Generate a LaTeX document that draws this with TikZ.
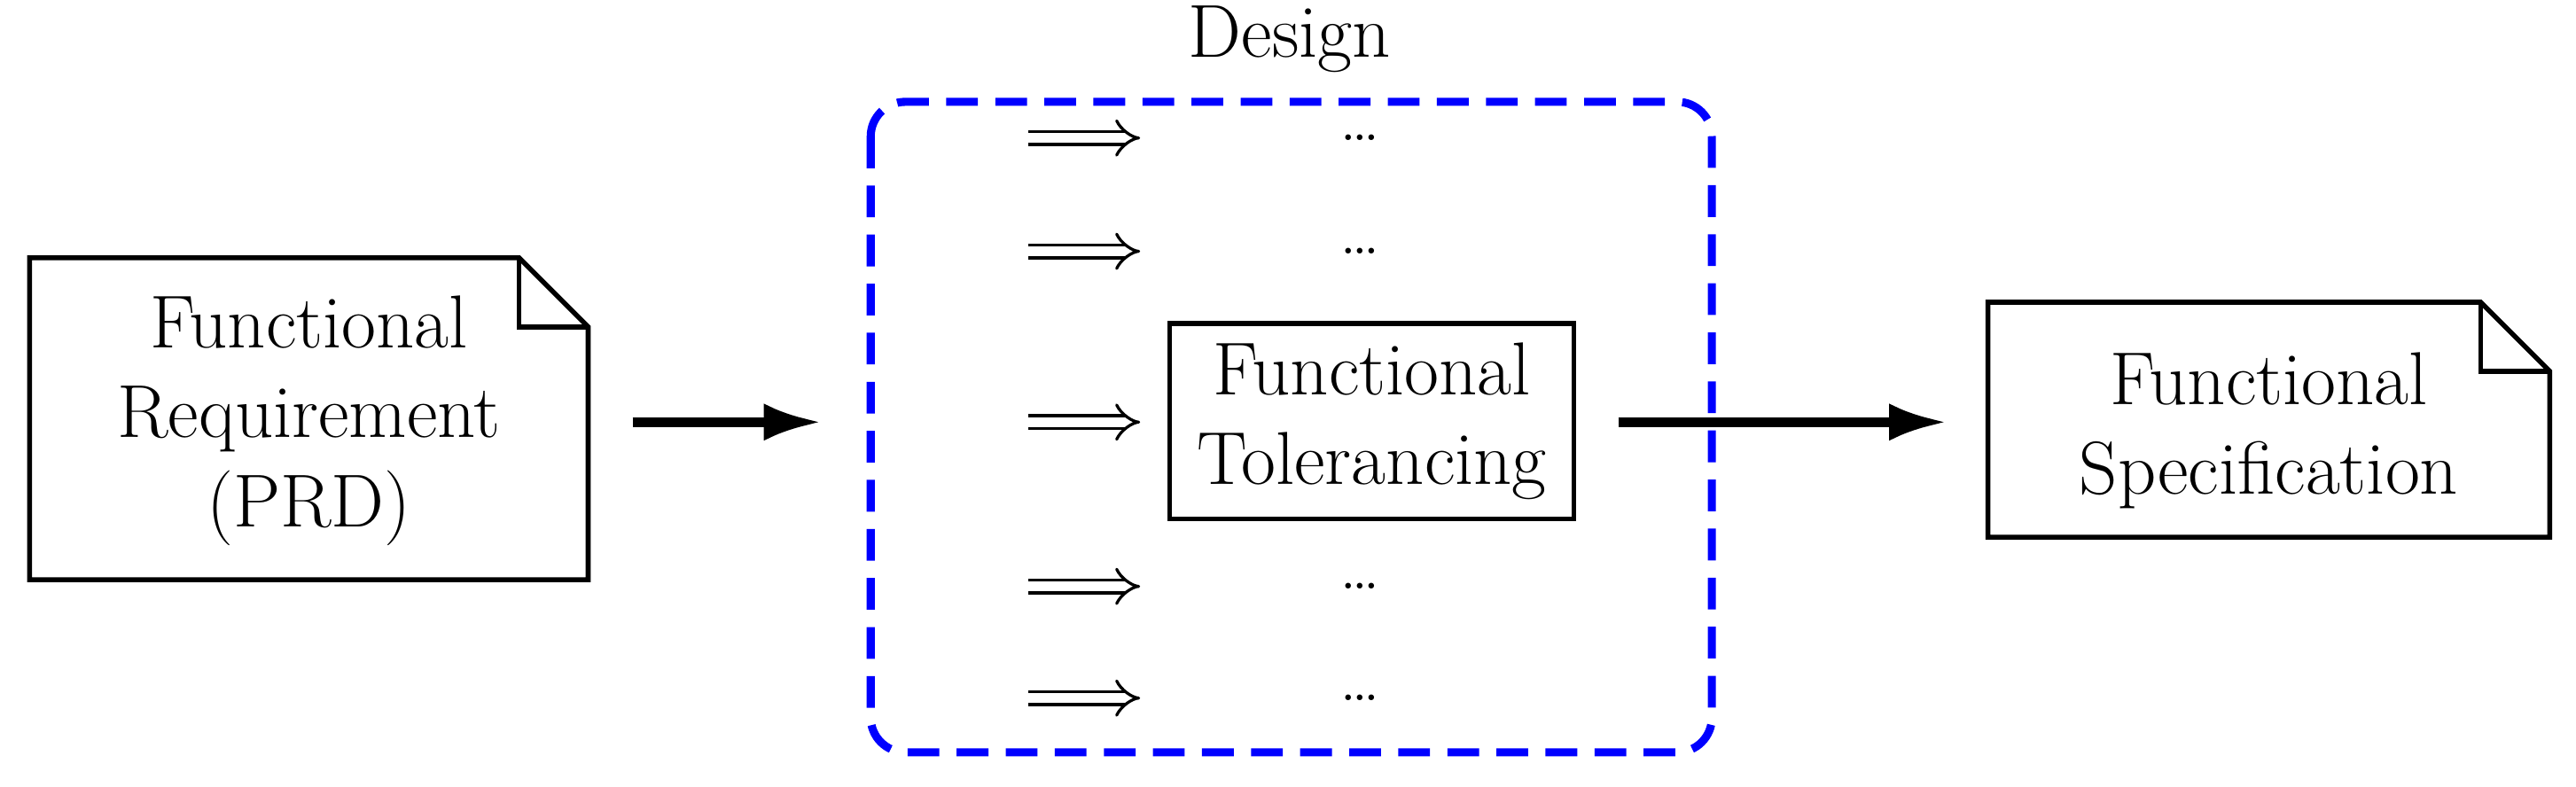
\documentclass[tikz,border=0pt]{standalone}
\usetikzlibrary{arrows.meta,arrows}
\begin{document}
\begin{tikzpicture}[x=0.02cm,y=-0.02cm,
  doc/.style={line width=1.7pt,fill=white},
  lbl/.style={font=\fontsize{26}{31}\selectfont,align=center},
  big/.style={line width=3.2pt,-{Latex[length=20pt,width=13pt]}},
  dbl/.style={double,double distance=3.5pt,line width=1pt,-{Implies}},
  dots/.style={font=\fontsize{24}{29}\selectfont}]
\useasboundingbox (0,0) rectangle (1568,479);
% left document
\draw[doc] (18,157) -- (316,157) -- (358,199) -- (358,353) -- (18,353) -- cycle;
\draw[line width=1.7pt] (316,157) -- (316,199) -- (358,199);
\node[lbl] (req) at (188,256) {Functional\\Requirement\\(PRD)};
% right document
\draw[doc] (1210,184) -- (1510,184) -- (1552,226) -- (1552,327) -- (1210,327) -- cycle;
\draw[line width=1.7pt] (1510,184) -- (1510,226) -- (1552,226);
\node[lbl] (spec) at (1381,262) {Functional\\Specification};
% design box
\draw[blue,line width=2.8pt,dash pattern=on 11pt off 6pt,rounded corners=12pt] (530,62) rectangle (1042,458);
\node[lbl] (design) at (785,24) {Design};
% tolerancing
\node[lbl,draw,line width=1.7pt,minimum width=4.92cm,minimum height=2.38cm,inner sep=0pt] (tol) at (835,256.5) {Functional\\Tolerancing};
% arrows
\coordinate (a1s) at (385,257); \coordinate (a1e) at (500,257);
\draw[big] (a1s) -- (a1e);
\coordinate (a2s) at (985,257); \coordinate (a2e) at (1185,257);
\draw[big] (a2s) -- (a2e);
\foreach \y/\n in {84/a,153/b,357/d,425/e}{
  \coordinate (s\n) at (626,\y); \coordinate (t\n) at (694,\y);
  \draw[dbl] (s\n) -- (t\n);
  \node[dots] (d\n) at (828,\y) {\dots};
}
\coordinate (sc) at (626,257); \coordinate (tc) at (694,257);
\draw[dbl] (sc) -- (tc);
\end{tikzpicture}
\end{document}
